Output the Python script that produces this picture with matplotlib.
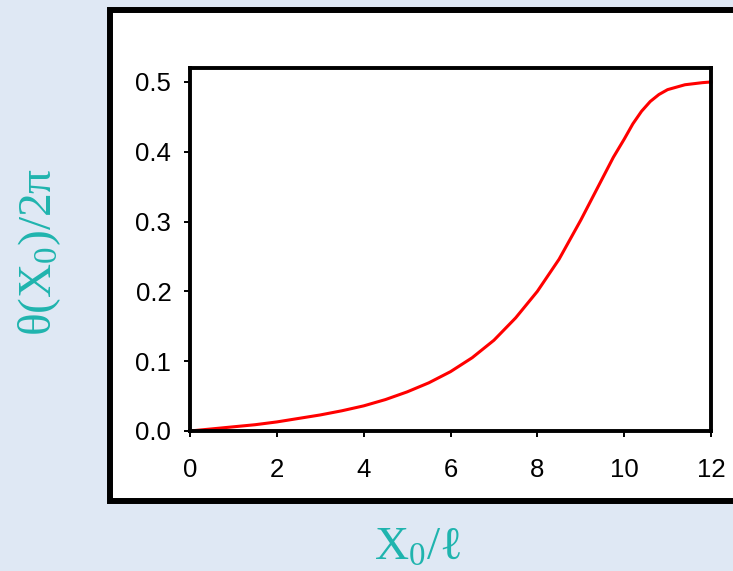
import matplotlib
matplotlib.use("Agg")
from matplotlib import pyplot as plt
from matplotlib.patches import Rectangle
import numpy as np

# values
x_pos = [0, 0.5, 1, 1.5, 2, 2.5, 3, 3.5, 4, 4.5, 5, 5.5, 6, 6.5, 7, 7.5, 8,
         8.5, 9, 9.5, 9.75, 10, 10.2, 10.4, 10.6, 10.8, 11.0, 11.4, 11.8, 12]
theta = [0.0, 0.003, 0.006, 0.009, 0.013, 0.018, 0.023, 0.029, 0.036, 0.045,
         0.056, 0.069, 0.085, 0.105, 0.130, 0.162, 0.200, 0.246, 0.302, 0.362,
         0.392, 0.418, 0.440, 0.458, 0.472, 0.482, 0.489, 0.496, 0.499, 0.500]
x_ticks = [0, 2, 4, 6, 8, 10, 12]
y_ticks = [0.0, 0.1, 0.2, 0.3, 0.4, 0.5]

TEAL = '#1fb4ae'
BG = '#dfe8f4'

plt.rcParams['mathtext.fontset'] = 'custom'
plt.rcParams['mathtext.rm'] = 'Liberation Serif'
plt.rcParams['mathtext.it'] = 'Liberation Serif:italic'

fig = plt.figure(figsize=(7.33, 5.71), dpi=100, facecolor=BG)

# white panel with heavy black frame, runs off the right edge
panel = Rectangle((110 / 733, 70 / 571), 0.9, 491 / 571,
                  transform=fig.transFigure, facecolor='white',
                  edgecolor='black', linewidth=4.3, zorder=-1)
fig.patches.append(panel)

ax = fig.add_axes([190 / 733, 140 / 571, 521 / 733, 363 / 571])
ax.set_zorder(2)
ax.plot(x_pos, theta, color='#ff0000', linewidth=2.2, clip_on=False,
        solid_joinstyle='round')

ax.set_xlim(0, 12)
ax.set_ylim(0, 0.52)
ax.set_xticks(x_ticks)
ax.set_yticks(y_ticks)
ax.set_yticklabels(['%.1f' % v for v in y_ticks])

for s in ax.spines.values():
    s.set_linewidth(2.8)
ax.tick_params(axis='both', direction='out', length=4.5, width=1.4,
               labelsize=18.5)
ax.tick_params(axis='y', pad=9)
ax.tick_params(axis='x', pad=15)
for lab in ax.get_xticklabels() + ax.get_yticklabels():
    lab.set_fontfamily('Liberation Sans')

fig.text(40 / 733, (571 - 252) / 571, r'θ(X$_0$)/2π',
         rotation=90, ha='center', va='center', color=TEAL,
         fontsize=34, family='Liberation Serif')
fig.text(418 / 733, 11 / 571, r'X$_0$/ℓ', ha='center', va='baseline',
         color=TEAL, fontsize=34, family='Liberation Serif')

fig.savefig('out.png', dpi=100, facecolor=BG)
